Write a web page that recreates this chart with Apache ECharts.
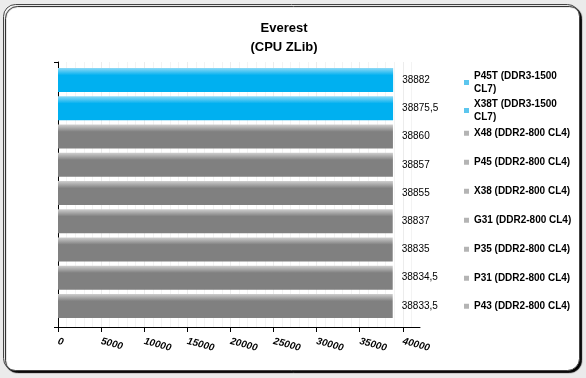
<!DOCTYPE html>
<html>
<head>
<meta charset="utf-8">
<script src="https://cdn.jsdelivr.net/npm/echarts@6/dist/echarts.min.js"></script>
<style>
    html, body { margin: 0; padding: 0; background: #ebebeb; }
    #chart_everest { width: 586px; height: 378px; }
</style>
</head>
<body>
<div id="chart_everest"></div>
<script>
var boardNames = [
    "P45T (DDR3-1500 CL7)",
    "X38T (DDR3-1500 CL7)",
    "X48 (DDR2-800 CL4)",
    "P45 (DDR2-800 CL4)",
    "X38 (DDR2-800 CL4)",
    "G31 (DDR2-800 CL4)",
    "P35 (DDR2-800 CL4)",
    "P31 (DDR2-800 CL4)",
    "P43 (DDR2-800 CL4)"
];
var zlibScores = [38882, 38875.5, 38860, 38857, 38855, 38837, 38835, 38834.5, 38833.5];
var memType = ["ddr3", "ddr3", "ddr2", "ddr2", "ddr2", "ddr2", "ddr2", "ddr2", "ddr2"];
var xTicks = [0, 5000, 10000, 15000, 20000, 25000, 30000, 35000, 40000];

var colorJson = {
    "ddr3": { top: '#8dd9f6', main: '#00b0f0', legend: '#5cc6ee' },
    "ddr2": { top: '#cfcfcf', main: '#808080', legend: '#b4b4b4' }
};
// legend rows sit next to the bars
var legendTops = [70, 98, 127, 156, 185, 214, 243, 272, 300];

var chart_everest = echarts.init(document.getElementById('chart_everest'));

function barColor(type) {
    var c = colorJson[type];
    return new echarts.graphic.LinearGradient(0, 0, 0, 1, [
        { offset: 0, color: c.top },
        { offset: 0.3, color: c.main },
        { offset: 1, color: c.main }
    ]);
}

var seriesArr = [];
var legendArr = [];
for (var i = 0; i < boardNames.length; i++) {
    var rowData = [];
    for (var j = 0; j < boardNames.length; j++) {
        rowData.push(j === i ? zlibScores[i] : '-');
    }
    seriesArr.push({
        name: boardNames[i],
        type: 'bar',
        xAxisIndex: 0,
        yAxisIndex: 0,
        barWidth: 24,
        barGap: '-100%',
        itemStyle: { color: barColor(memType[i]) },
        label: {
            show: true,
            position: 'right',
            distance: 9,
            color: '#000',
            fontFamily: 'Liberation Sans, Arial',
            fontSize: 10,
            formatter: function (p) {
                return String(p.value).replace('.', ',');
            }
        },
        data: rowData
    });
    legendArr.push({
        left: 464,
        top: legendTops[i],
        padding: 0,
        orient: 'vertical',
        itemWidth: 5,
        itemHeight: 5,
        icon: 'rect',
        selectedMode: false,
        textStyle: {
            color: '#000',
            fontFamily: 'Liberation Sans, Arial',
            fontWeight: 'bold',
            fontSize: 10,
            lineHeight: 12.5,
            width: 100,
            overflow: 'break'
        },
        data: [{ name: boardNames[i], itemStyle: { color: colorJson[memType[i]].legend } }]
    });
}

var option = {
    backgroundColor: '#ebebeb',
    animation: false,
    title: {
        text: 'Everest\n(CPU ZLib)',
        left: 284,
        top: 19,
        padding: 0,
        textAlign: 'center',
        textStyle: {
            color: '#000',
            fontFamily: 'Liberation Sans, Arial',
            fontWeight: 'bold',
            fontSize: 13,
            lineHeight: 19
        }
    },
    graphic: [
        {
            type: 'rect',
            z: -10,
            shape: { x: 3.5, y: 4.5, width: 576, height: 366, r: 12 },
            style: {
                fill: '#fff',
                stroke: '#444',
                lineWidth: 1,
                shadowColor: '#000',
                shadowOffsetX: 2,
                shadowOffsetY: 2,
                shadowBlur: 1
            }
        }
    ],
    legend: legendArr,
    grid: [
        { left: 58, right: 166, top: 66, bottom: 58 },
        { left: 58, right: 166, top: 62, bottom: 51 }
    ],
    xAxis: [
        {
            gridIndex: 0,
            type: 'value',
            min: 0,
            max: 42000,
            show: false
        },
        {
            gridIndex: 1,
            type: 'value',
            min: 0,
            max: 42000,
            interval: 5000,
            axisLine: { show: true, lineStyle: { color: '#000', width: 1 } },
            axisTick: { show: true, length: 5, lineStyle: { color: '#000' }, customValues: xTicks },
            axisLabel: {
                customValues: xTicks,
                rotate: -15,
                margin: 14,
                color: '#000',
                fontFamily: 'Liberation Sans, Arial',
                fontWeight: 'bold',
                fontStyle: 'italic',
                fontSize: 10,
                formatter: function (v) {
                    return String(v);
                }
            },
            splitLine: { show: true, lineStyle: { color: '#ececec' } },
            minorTick: { show: false, splitNumber: 5 },
            minorSplitLine: { show: true, lineStyle: { color: '#f3f3f3' } }
        }
    ],
    yAxis: [
        {
            gridIndex: 0,
            type: 'category',
            inverse: true,
            data: boardNames,
            show: false
        },
        {
            gridIndex: 1,
            type: 'value',
            min: 0,
            max: 1,
            interval: 1,
            axisLine: { show: true, lineStyle: { color: '#000', width: 1 } },
            axisTick: { show: true, length: 4, lineStyle: { color: '#000' } },
            axisLabel: { show: false },
            splitLine: { show: false }
        }
    ],
    series: seriesArr
};
chart_everest.setOption(option);
</script>
</body>
</html>
